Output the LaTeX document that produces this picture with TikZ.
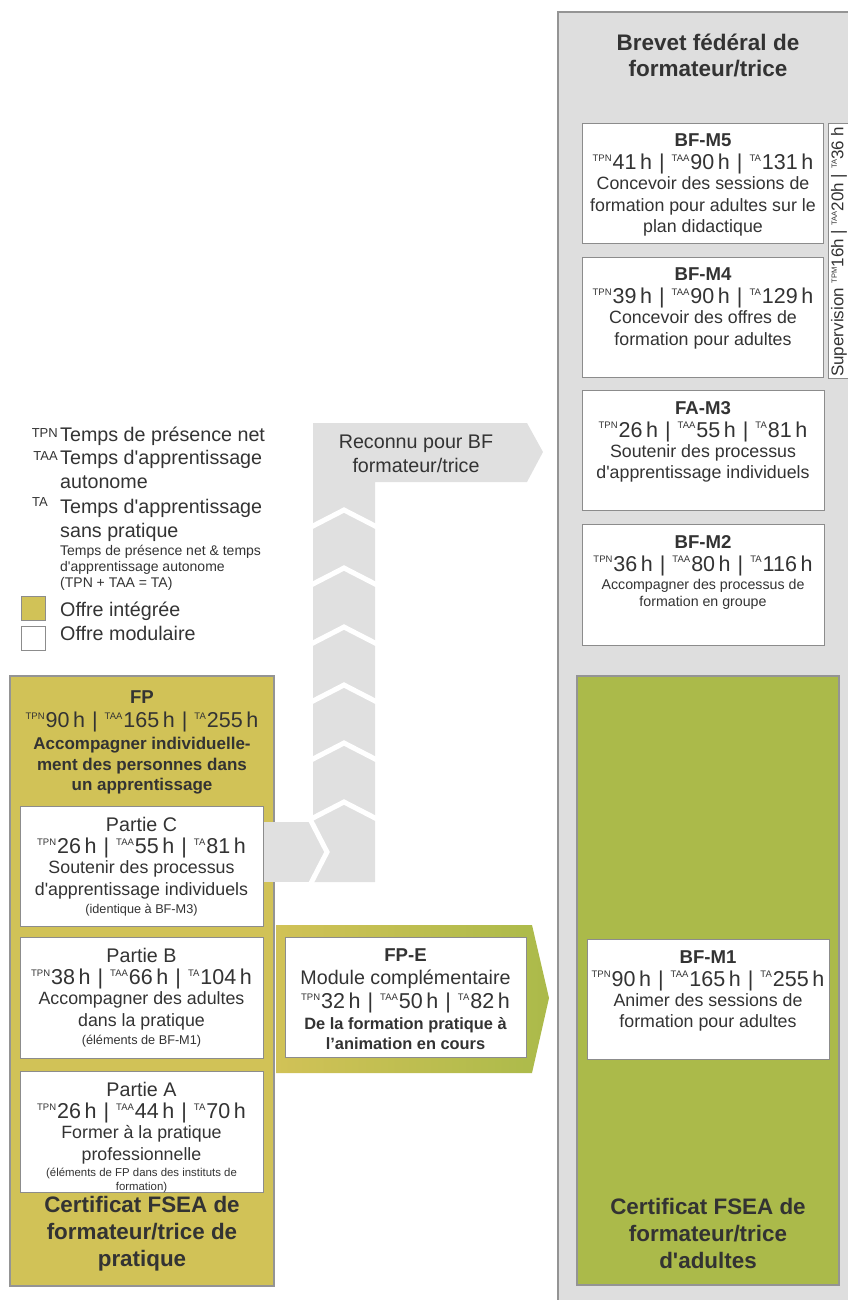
\documentclass[tikz,border=0pt]{standalone}
\usepackage{fontspec}
\setmainfont{Liberation Sans}[Ligatures=TeXOff]
\usepackage{tikz}
\usetikzlibrary{shapes}
\usetikzlibrary{shapes.geometric}
\pgfdeclarelayer{edgelayer}
\pgfdeclarelayer{nodelayer}
\pgfsetlayers{edgelayer,nodelayer,main}
\tikzstyle{none}=[inner sep=0pt]
\definecolor{panelgray}{rgb}{0.87,0.87,0.87}
\definecolor{colgray}{rgb}{0.88,0.88,0.88}
\definecolor{edgegray}{rgb}{0.58,0.58,0.58}
\definecolor{boxedge}{rgb}{0.55,0.55,0.55}
\definecolor{olive}{rgb}{0.82,0.76,0.34}
\definecolor{moss}{rgb}{0.67,0.73,0.29}
\definecolor{ink}{rgb}{0.2,0.2,0.2}
\newcommand{\legfont}{\fontsize{19.7}{23.5}\selectfont}
\newcommand{\boxfont}{\fontsize{17.8}{21.5}\selectfont}
\newcommand{\boxtitle}{\fontsize{18.6}{21.5}\selectfont\bfseries}
\newcommand{\certfont}{\fontsize{22.4}{27}\selectfont\bfseries}
\newcommand{\notefont}{\fontsize{12.7}{15}\selectfont}
\newcommand{\tlab}[1]{\raisebox{8.4pt}{\fontsize{9.5}{9.5}\selectfont #1}}
\newcommand{\tlabs}[1]{\raisebox{6.5pt}{\fontsize{7.5}{7.5}\selectfont #1}}
\newcommand{\modhours}[3]{{\fontsize{21.5}{22}\selectfont\tlab{TPN}\hspace{1pt}#1\,h\hspace{7pt}|\hspace{7pt}\tlab{TAA}\hspace{1pt}#2\,h\hspace{7pt}|\hspace{7pt}\tlab{TA}\hspace{1pt}#3\,h}}
\tikzstyle{module}=[rectangle, draw=boxedge, fill=white, line width=0.8pt, inner sep=0pt, anchor=north west, minimum width=242pt, minimum height=121pt]
\tikzstyle{modtext}=[inner sep=0pt, anchor=north, align=center, text=ink]
\tikzstyle{legtext}=[inner sep=0pt, align=left, text=ink, font=\legfont]
\tikzstyle{legsup}=[inner sep=0pt, text=ink, font=\fontsize{13}{13}\selectfont]

\begin{document}
\begin{tikzpicture}[x=1pt, y=-1pt]
	\useasboundingbox (0,0) rectangle (847,1300);
	\begin{pgfonlayer}{nodelayer}
		\node [style=none, align=center, text=ink, font=\fontsize{22.5}{26}\selectfont\bfseries] (0) at (708,55) {Brevet fédéral de\\formateur/trice};
		\node [module, minimum width=241pt, minimum height=120pt] (1) at (582,123) {};
		\node [modtext, font=\boxfont] (2) at (703,134) {{\boxtitle BF-M5}\\[1.5pt]\modhours{41}{90}{131}\\[-1.5pt]Concevoir des sessions de\\formation pour adultes sur le\\plan didactique};
		\node [module, minimum width=241pt, minimum height=120pt] (3) at (582,257) {};
		\node [modtext, font=\boxfont] (4) at (703,268) {{\boxtitle BF-M4}\\[1.5pt]\modhours{39}{90}{129}\\[-1.5pt]Concevoir des offres de\\formation pour adultes};
		\node [module, minimum height=120pt] (5) at (582,390) {};
		\node [modtext, font=\boxfont] (6) at (703,401) {{\boxtitle FA-M3}\\[1.5pt]\modhours{26}{55}{81}\\[-1.5pt]Soutenir des processus\\d'apprentissage individuels};
		\node [module] (7) at (582,524) {};
		\node [modtext, font=\fontsize{14.2}{17}\selectfont] (8) at (703,535) {{\boxtitle BF-M2}\\[6pt]\modhours{36}{80}{116}\\[1pt]Accompagner des processus de\\formation en groupe};
		\node [module, minimum width=30pt, minimum height=255pt] (9) at (828,123) {};
		\node [style=none, rotate=90, anchor=west, text=ink, font=\fontsize{17}{18}\selectfont] (10) at (839,377) {Supervision \tlabs{TPM}16h | \tlabs{TAA}20h | \tlabs{TA}36 h};
		\node [module, minimum height=120pt] (11) at (587,939) {};
		\node [modtext, font=\boxfont] (12) at (708,950) {{\boxtitle BF-M1}\\[1.5pt]\modhours{90}{165}{255}\\[-1.5pt]Animer des sessions de\\formation pour adultes};
		\node [style=none, align=center, text=ink, font=\certfont] (13) at (708,1233) {Certificat FSEA de\\formateur/trice\\d'adultes};
		\node [modtext, font=\fontsize{17}{20.5}\selectfont\bfseries] (14) at (142,690) {{\boxtitle FP}\\[4pt]{\mdseries\modhours{90}{165}{255}}\\[1.5pt]Accompagner individuelle-\\ment des personnes dans\\un apprentissage};
		\node [module, minimum width=243pt, minimum height=120pt] (15) at (20,806) {};
		\node [modtext, font=\boxfont] (16) at (141.5,817) {{\legfont Partie C}\\[1pt]\modhours{26}{55}{81}\\[-1.5pt]Soutenir des processus\\d'apprentissage individuels\\[-3.5pt]{\notefont (identique à BF-M3)}};
		\node [module, minimum width=243pt] (17) at (20,937) {};
		\node [modtext, font=\boxfont] (18) at (141.5,948) {{\legfont Partie B}\\[1pt]\modhours{38}{66}{104}\\[-1.5pt]Accompagner des adultes\\dans la pratique\\[-3.5pt]{\notefont (éléments de BF-M1)}};
		\node [module, minimum width=243pt] (19) at (20,1071) {};
		\node [modtext, font=\boxfont] (20) at (141.5,1082) {{\legfont Partie A}\\[1pt]\modhours{26}{44}{70}\\[-1.5pt]Former à la pratique\\professionnelle\\[-5.5pt]{\fontsize{11.4}{14}\selectfont (éléments de FP dans des instituts de}\\[-7.5pt]{\fontsize{11.4}{14}\selectfont formation)}};
		\node [style=none, align=center, text=ink, font=\certfont] (21) at (142,1234) {Certificat FSEA de\\formateur/trice de\\pratique};
		\node [module, minimum width=241pt, minimum height=120pt] (22) at (285,937) {};
		\node [modtext, font=\fontsize{16.4}{20}\selectfont\bfseries] (23) at (405.5,948) {{\boxtitle FP-E}\\[3.5pt]{\mdseries\legfont Module complémentaire}\\[4pt]{\mdseries\modhours{32}{50}{82}}\\[1pt]De la formation pratique à\\l’animation en cours};
		\node [style=none, align=center, text=ink, font=\legfont] (24) at (416,454) {Reconnu pour BF\\formateur/trice};
		\node [legtext, anchor=north west] (25) at (60,427) {Temps de présence net};
		\node [legsup, anchor=north east] (26) at (58,428) {TPN};
		\node [legtext, anchor=north west] (27) at (60,450.5) {Temps d'apprentissage\\autonome};
		\node [legsup, anchor=north east] (28) at (58,451) {TAA};
		\node [legtext, anchor=north west] (29) at (60,499.5) {Temps d'apprentissage\\sans pratique};
		\node [legsup, anchor=north west] (30) at (32,497) {TA};
		\node [legtext, anchor=north west, font=\fontsize{14}{16}\selectfont] (31) at (60,545) {Temps de présence net \& temps\\d'apprentissage autonome\\(TPN + TAA = TA)};
		\node [style=none, rectangle, draw=boxedge, fill=olive, line width=0.8pt, minimum size=24pt, anchor=north west] (32) at (21,596) {};
		\node [style=none, rectangle, draw=boxedge, fill=white, line width=0.8pt, minimum size=24pt, anchor=north west] (33) at (21,626) {};
		\node [legtext, anchor=base west] (34) at (60,616) {Offre intégrée};
		\node [legtext, anchor=base west] (35) at (60,640) {Offre modulaire};
	\end{pgfonlayer}
	\begin{pgfonlayer}{edgelayer}
		\fill [panelgray] (558,12) rectangle (870,1320);
		\draw [edgegray, line width=1.5pt] (558,1320) -- (558,12) -- (870,12);
		\draw [edgegray, line width=1.2pt, fill=moss] (577,676) rectangle (839,1285);
		\draw [edgegray, line width=1.2pt, fill=olive] (10,676) rectangle (274,1286);
		\fill [colgray] (313,423) -- (527,423) -- (543,452) -- (527,482) -- (375,482) -- (375,882) -- (313,882) -- cycle;
		\fill [colgray] (263,822) rectangle (330,882);
		\foreach \y in {510,568,627,685,743,802}
			\draw [white, line width=5pt] (311,\y+17) -- (344,\y) -- (377,\y+17);
		\draw [white, line width=5pt] (310,819) -- (327,852) -- (310,885);
		\shade [left color=olive, right color=moss] (276,925) -- (532,925) -- (549,998) -- (532,1073) -- (276,1073) -- cycle;
	\end{pgfonlayer}
\end{tikzpicture}
\end{document}
